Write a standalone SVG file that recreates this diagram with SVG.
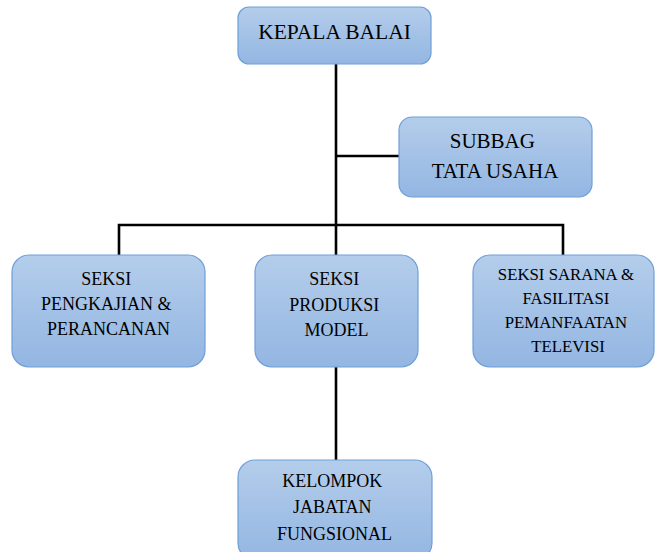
<svg xmlns="http://www.w3.org/2000/svg" width="655" height="552" viewBox="0 0 655 552">
  <defs>
    <linearGradient id="boxFill" x1="0" y1="0" x2="0" y2="1">
      <stop offset="0" stop-color="#b4cdeb"/>
      <stop offset="1" stop-color="#93b6e2"/>
    </linearGradient>
    <style>
      .box { fill: url(#boxFill); stroke: #6f9fd8; stroke-width: 1.2; }
      .lbl { font-family: "Liberation Serif", "Times New Roman", serif; fill: #000; text-anchor: middle; }
      .conn { stroke: #000; stroke-width: 2.6; fill: none; }
    </style>
  </defs>
  <rect width="655" height="552" fill="#fff"/>

  <g id="connectors">
    <line class="conn" x1="336" y1="64" x2="336" y2="226"/>
    <line class="conn" x1="336" y1="156" x2="400" y2="156"/>
    <polyline class="conn" points="119,255 119,225 563,225 563,255"/>
    <line class="conn" x1="336" y1="225" x2="336" y2="255"/>
    <line class="conn" x1="336" y1="367" x2="336" y2="460"/>
  </g>

  <g id="kepala-balai">
    <rect class="box" x="238" y="7" width="193" height="57" rx="11"/>
    <text class="lbl" x="334.5" y="38.5" font-size="21.5">KEPALA BALAI</text>
  </g>

  <g id="subbag-tata-usaha">
    <rect class="box" x="399" y="117" width="193" height="80" rx="13"/>
    <text class="lbl" font-size="21">
      <tspan x="495" y="148">SUBBAG</tspan>
      <tspan x="495" y="178">TATA USAHA</tspan>
    </text>
  </g>

  <g id="seksi-pengkajian">
    <rect class="box" x="12" y="255" width="193" height="112" rx="17"/>
    <text class="lbl" font-size="18">
      <tspan x="108.5" y="285">SEKSI</tspan>
      <tspan x="108.5" y="310">PENGKAJIAN &amp;</tspan>
      <tspan x="108.5" y="335">PERANCANAN</tspan>
    </text>
  </g>

  <g id="seksi-produksi">
    <rect class="box" x="255" y="255" width="163" height="112" rx="17"/>
    <text class="lbl" font-size="18">
      <tspan x="336.5" y="285">SEKSI</tspan>
      <tspan x="336.5" y="311">PRODUKSI</tspan>
      <tspan x="336.5" y="336">MODEL</tspan>
    </text>
  </g>

  <g id="seksi-sarana">
    <rect class="box" x="473" y="255" width="181" height="112" rx="17"/>
    <text class="lbl" font-size="16.8">
      <tspan x="568" y="280">SEKSI SARANA &amp;</tspan>
      <tspan x="568" y="304">FASILITASI</tspan>
      <tspan x="568" y="328">PEMANFAATAN</tspan>
      <tspan x="568" y="352">TELEVISI</tspan>
    </text>
  </g>

  <g id="kelompok-jabatan">
    <rect class="box" x="238" y="460" width="194" height="100" rx="17"/>
    <text class="lbl" font-size="18">
      <tspan x="334.5" y="487">KELOMPOK</tspan>
      <tspan x="334.5" y="513">JABATAN</tspan>
      <tspan x="334.5" y="540">FUNGSIONAL</tspan>
    </text>
  </g>
</svg>
